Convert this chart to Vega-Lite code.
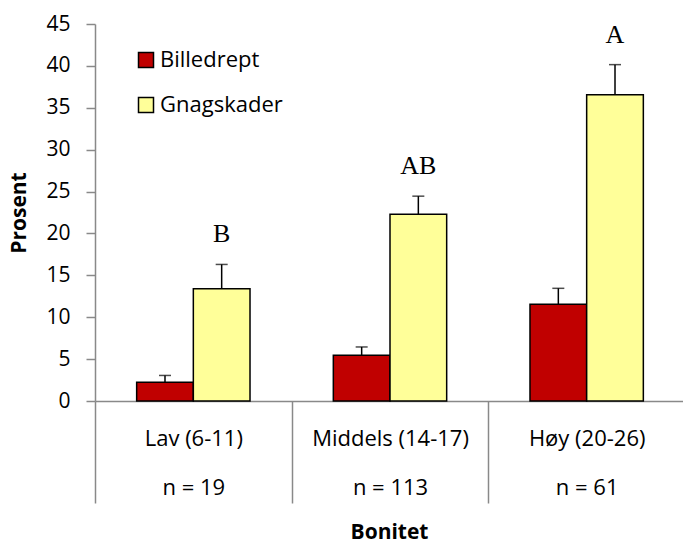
{
  "$schema": "https://vega.github.io/schema/vega-lite/v6.json",
  "width": 590,
  "height": 377,
  "autosize": "none",
  "padding": {"left": 95, "top": 24, "right": 0, "bottom": 142},
  "background": "white",
  "config": {
    "view": {"stroke": null},
    "font": "Open Sans",
    "legend": {
      "orient": "none",
      "legendX": 40,
      "legendY": 25,
      "padding": 0,
      "symbolType": "square",
      "symbolSize": 225,
      "symbolStrokeColor": "black",
      "symbolStrokeWidth": 1.5,
      "labelFontSize": 22,
      "labelFont": "Open Sans",
      "labelColor": "black",
      "rowPadding": 23,
      "labelOffset": 3
    }
  },
  "data": {
    "values": [
      {"bonitet": "Lav (6-11)|n = 19", "serie": "Billedrept", "prosent": 2.25, "feil": 3.05},
      {"bonitet": "Lav (6-11)|n = 19", "serie": "Gnagskader", "prosent": 13.4, "feil": 16.3, "bokstav": "B"},
      {"bonitet": "Middels (14-17)|n = 113", "serie": "Billedrept", "prosent": 5.45, "feil": 6.45},
      {"bonitet": "Middels (14-17)|n = 113", "serie": "Gnagskader", "prosent": 22.3, "feil": 24.45, "bokstav": "AB"},
      {"bonitet": "Høy (20-26)|n = 61", "serie": "Billedrept", "prosent": 11.55, "feil": 13.45},
      {"bonitet": "Høy (20-26)|n = 61", "serie": "Gnagskader", "prosent": 36.55, "feil": 40.15, "bokstav": "A"}
    ]
  },
  "encoding": {
    "x": {
      "field": "bonitet",
      "type": "nominal",
      "sort": null,
      "scale": {"paddingInner": 0, "paddingOuter": 0},
      "axis": {
        "title": "Bonitet",
        "labelExpr": "split(datum.label, '|')",
        "labelAngle": 0,
        "labelLimit": 0,
        "tickBand": "extent",
        "tickSize": 102,
        "tickColor": "#898989",
        "tickWidth": 1.5,
        "domainColor": "#898989",
        "domainWidth": 1.5,
        "labelFontSize": 22,
        "labelColor": "black",
        "labelBaseline": "alphabetic",
        "labelPadding": -58,
        "labelLineHeight": 49,
        "titleFontSize": 21,
        "titleFontWeight": "bold",
        "titleColor": "black",
        "titleX": 294,
        "titleY": 131,
        "titleBaseline": "middle"
      }
    },
    "xOffset": {
      "field": "serie",
      "type": "nominal",
      "scale": {"paddingInner": 0, "paddingOuter": 0.735}
    },
    "y": {
      "field": "prosent",
      "type": "quantitative",
      "scale": {"domain": [0, 45], "nice": false},
      "axis": {
        "title": "Prosent",
        "values": [0, 5, 10, 15, 20, 25, 30, 35, 40, 45],
        "grid": false,
        "domainColor": "#898989",
        "domainWidth": 1.5,
        "tickColor": "#898989",
        "tickWidth": 1.5,
        "tickSize": 9,
        "labelFontSize": 21,
        "labelColor": "black",
        "labelPadding": 16,
        "titleFontSize": 21,
        "titleFontWeight": "bold",
        "titleColor": "black",
        "titleX": -76,
        "titleY": 188.5,
        "titleBaseline": "middle",
        "titleAlign": "center",
        "titleAngle": -90
      }
    }
  },
  "layer": [
    {
      "mark": {"type": "bar", "stroke": "black", "strokeWidth": 1.5},
      "encoding": {
        "color": {
          "field": "serie",
          "type": "nominal",
          "scale": {"domain": ["Billedrept", "Gnagskader"], "range": ["#C00000", "#FFFF99"]},
          "legend": {"title": null}
        }
      }
    },
    {
      "mark": {"type": "rule", "color": "black", "strokeWidth": 1.5},
      "encoding": {"y2": {"field": "feil"}}
    },
    {
      "mark": {"type": "tick", "color": "black", "size": 12, "thickness": 1.5, "orient": "horizontal"},
      "encoding": {"y": {"field": "feil", "type": "quantitative"}}
    },
    {
      "transform": [{"filter": "datum.bokstav"}],
      "mark": {"type": "text", "font": "Liberation Serif", "fontSize": 26, "color": "black", "baseline": "alphabetic", "dy": -22},
      "encoding": {
        "y": {"field": "feil", "type": "quantitative"},
        "text": {"field": "bokstav"}
      }
    }
  ]
}
